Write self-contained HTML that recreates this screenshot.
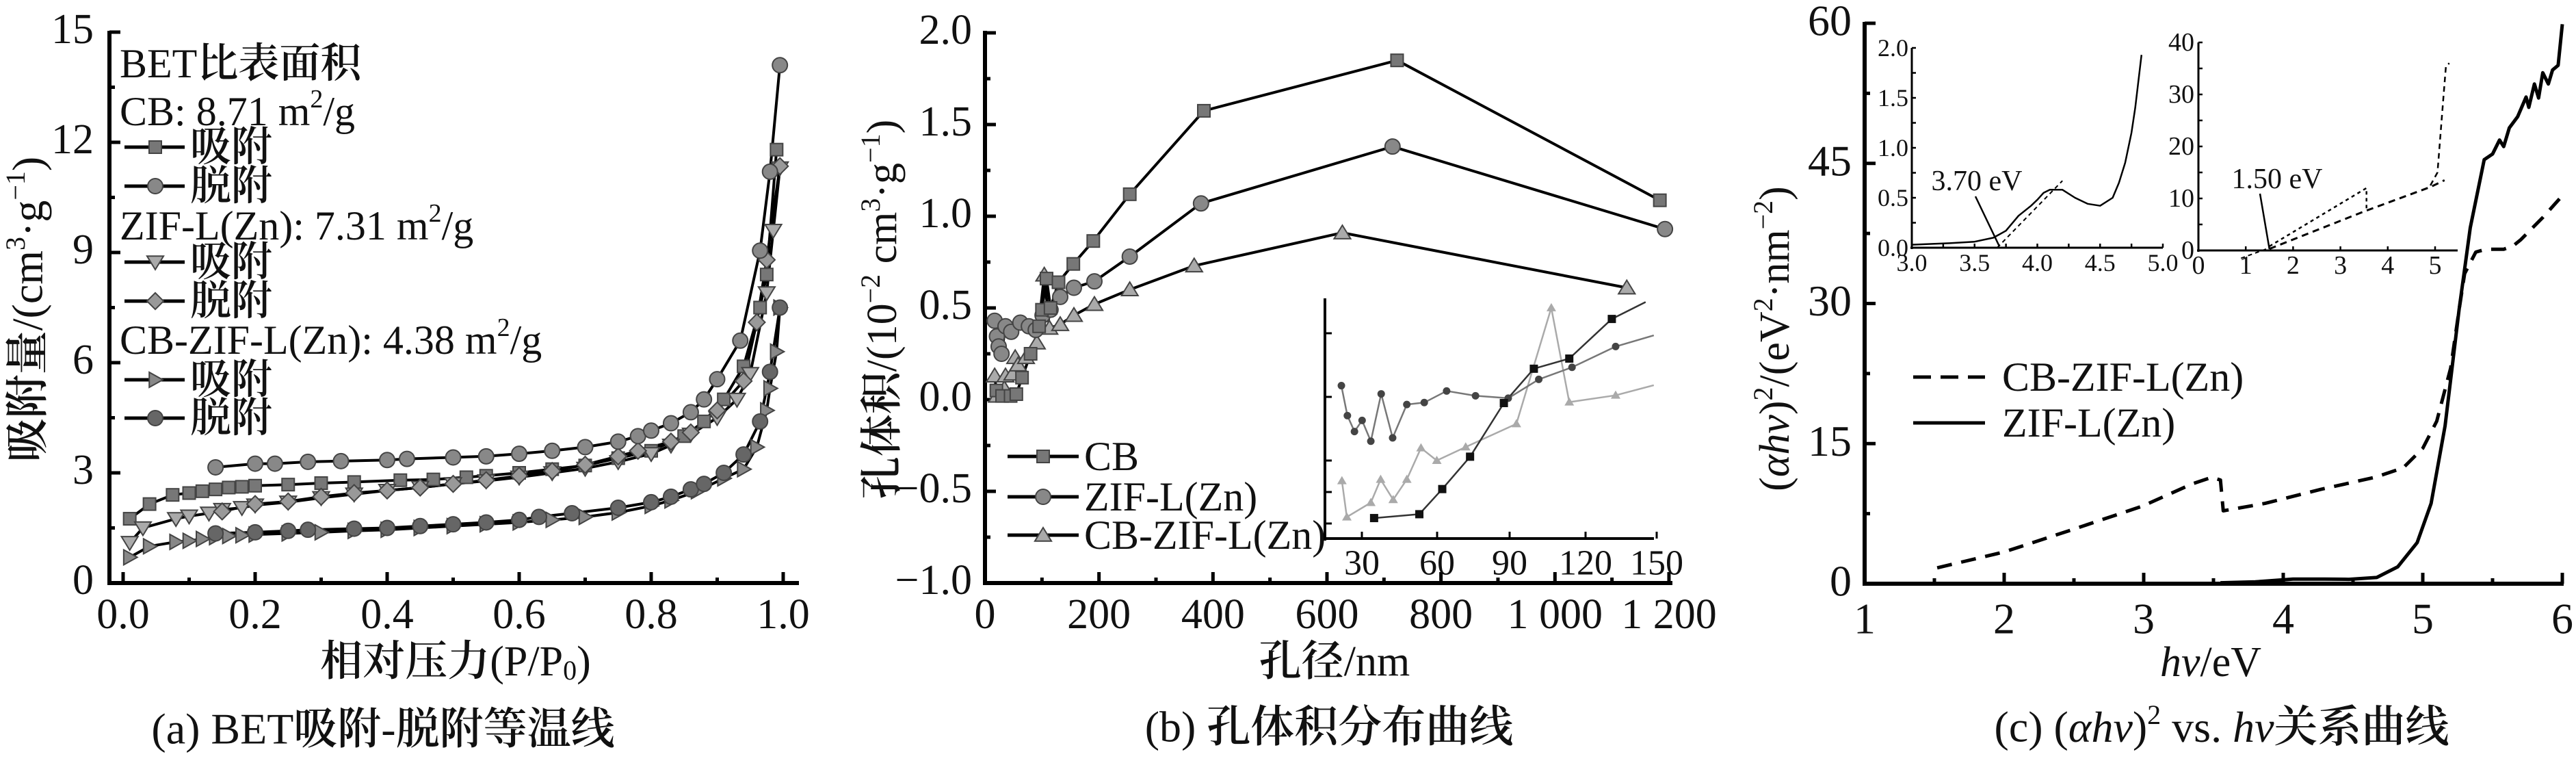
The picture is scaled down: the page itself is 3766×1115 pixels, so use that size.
<!DOCTYPE html>
<html><head><meta charset="utf-8">
<style>
html,body{margin:0;padding:0;background:#fff;}
svg text{font-family:"Liberation Serif","Noto Serif CJK SC",serif;fill:#111;}
.b{font-weight:600;}
</style></head>
<body>
<svg id="s" xmlns="http://www.w3.org/2000/svg" width="3766" height="1110" viewBox="0 0 3766 1110"></svg>
<script>
const S=document.getElementById('s');let H='';
function cj(t){return t.replace(/([\u4e00-\u9fff]+)/g,'<tspan class="b">$1</tspan>');}
function L(x1,y1,x2,y2,w,c,extra){H+=`<line x1="${x1}" y1="${y1}" x2="${x2}" y2="${y2}" stroke="${c||'#000'}" stroke-width="${w||6}" ${extra||''}/>`;}
function T(x,y,t,fs,anchor,extra){H+=`<text x="${x}" y="${y}" font-size="${fs}" text-anchor="${anchor||'middle'}" dominant-baseline="central" ${extra||''}>${cj(t)}</text>`;}
function P(pts,w,c,extra){H+=`<polyline fill="none" points="${pts.map(p=>p[0].toFixed(1)+','+p[1].toFixed(1)).join(' ')}" stroke="${c||'#000'}" stroke-width="${w||4}" stroke-linejoin="round" ${extra||''}/>`;}
function M(type,x,y,r,fill){
 const st=`fill="${fill}" stroke="#444" stroke-width="2"`;
 if(type=='s')H+=`<rect x="${x-r}" y="${y-r}" width="${2*r}" height="${2*r}" ${st}/>`;
 else if(type=='c')H+=`<circle cx="${x}" cy="${y}" r="${r}" ${st}/>`;
 else if(type=='d')H+=`<polygon points="${x},${y+r} ${x-r*1.1},${y-r*0.8} ${x+r*1.1},${y-r*0.8}" ${st}/>`;
 else if(type=='u')H+=`<polygon points="${x},${y-r} ${x-r*1.1},${y+r*0.8} ${x+r*1.1},${y+r*0.8}" ${st}/>`;
 else if(type=='r')H+=`<polygon points="${x+r},${y} ${x-r*0.8},${y-r} ${x-r*0.8},${y+r}" ${st}/>`;
 else if(type=='m')H+=`<polygon points="${x},${y-r*1.1} ${x+r*1.1},${y} ${x},${y+r*1.1} ${x-r*1.1},${y}" ${st}/>`;
}
/* ===== Panel a ===== */
{const X=v=>180+965*v, Y=v=>852-53.67*v;
L(160,45,160,855);L(157,852,1168,852);
for(let i=0;i<=10;i++){const y=Y(i*1.5);L(160,y,i%2==0?176:168,y,5);}
for(let i=0;i<=10;i++){const x=X(i*0.1);L(x,852,x,i%2==0?836:844,5);}
for(let i=0;i<=5;i++)T(137,Y(i*3)-4,String(i*3),62,'end');
for(let i=0;i<=5;i++)T(X(i*0.2),898,(i*0.2).toFixed(1),62);
const series=[
['s','#777',[[0.01,1.75],[0.04,2.15],[0.075,2.4],[0.1,2.45],[0.12,2.5],[0.14,2.55],[0.16,2.6],[0.18,2.62],[0.2,2.65],[0.25,2.68],[0.3,2.72],[0.35,2.75],[0.42,2.8],[0.47,2.82],[0.52,2.88],[0.55,2.92],[0.6,3.0],[0.65,3.1],[0.7,3.2],[0.75,3.4],[0.8,3.6],[0.85,4.0],[0.88,4.4],[0.91,5.0],[0.94,5.9],[0.965,7.5],[0.975,8.4],[0.99,11.8]]],
['d','#aaa',[[0.01,1.1],[0.03,1.5],[0.08,1.75],[0.1,1.82],[0.13,1.9],[0.15,2.0],[0.18,2.05],[0.2,2.12],[0.25,2.2],[0.3,2.32],[0.35,2.42],[0.4,2.52],[0.45,2.6],[0.5,2.7],[0.55,2.78],[0.6,2.88],[0.65,3.0],[0.7,3.12],[0.75,3.3],[0.8,3.52],[0.83,3.75],[0.86,4.05],[0.9,4.5],[0.93,5.0],[0.95,5.7],[0.975,7.9],[0.985,9.6],[0.995,11.3]]],
['m','#999',[[0.15,1.95],[0.2,2.15],[0.25,2.22],[0.3,2.35],[0.35,2.45],[0.4,2.52],[0.45,2.6],[0.5,2.7],[0.55,2.8],[0.6,2.92],[0.65,3.05],[0.7,3.22],[0.75,3.45],[0.78,3.6],[0.83,3.85],[0.86,4.1],[0.9,4.7],[0.94,5.5],[0.96,7.1],[0.975,8.8],[0.995,11.35]]],
['r','#888',[[0.01,0.7],[0.04,1.0],[0.08,1.12],[0.1,1.15],[0.12,1.2],[0.14,1.25],[0.16,1.28],[0.18,1.3],[0.2,1.32],[0.25,1.35],[0.3,1.38],[0.35,1.42],[0.4,1.45],[0.45,1.5],[0.5,1.55],[0.55,1.6],[0.6,1.65],[0.65,1.72],[0.7,1.8],[0.75,1.92],[0.8,2.1],[0.83,2.25],[0.87,2.5],[0.91,2.85],[0.94,3.1],[0.96,3.7],[0.975,4.7],[0.98,5.3],[0.99,6.3],[0.995,7.5]]],
['c','#666',[[0.14,1.35],[0.2,1.38],[0.25,1.42],[0.28,1.45],[0.35,1.48],[0.4,1.5],[0.45,1.55],[0.5,1.6],[0.55,1.65],[0.6,1.72],[0.63,1.8],[0.68,1.9],[0.75,2.05],[0.8,2.2],[0.83,2.35],[0.86,2.55],[0.88,2.7],[0.91,3.0],[0.94,3.5],[0.965,4.4],[0.98,5.75],[0.995,7.5]]],
['c','#888',[[0.14,3.15],[0.2,3.25],[0.23,3.25],[0.28,3.3],[0.33,3.32],[0.4,3.35],[0.43,3.38],[0.5,3.42],[0.55,3.45],[0.6,3.52],[0.65,3.6],[0.7,3.7],[0.75,3.85],[0.78,4.0],[0.8,4.15],[0.83,4.35],[0.86,4.65],[0.88,5.0],[0.9,5.55],[0.935,6.6],[0.965,9.05],[0.98,11.2],[0.995,14.1]]]];
for(const s of series){P(s[2].map(p=>[X(p[0]),Y(p[1])]),4);}
for(const s of series){for(const p of s[2])M(s[0],X(p[0]),Y(p[1]),s[0]=='s'?9:11,s[1]);}
T(175,93,'BET比表面积',60,'start');
T(175,163,'CB: 8.71 m<tspan font-size="38" dy="-18">2</tspan><tspan dy="18">/g</tspan>',60,'start');
const leg=[[215,'s','#777','吸附'],[272,'c','#888','脱附'],[383,'d','#aaa','吸附'],[440,'m','#999','脱附'],[555,'r','#888','吸附'],[611,'c','#666','脱附']];
for(const l of leg){L(182,l[0],270,l[0],5);M(l[1],227,l[0],l[1]=='s'?9:11,l[2]);T(278,l[0],l[3],60,'start');}
T(175,330,'ZIF-L(Zn): 7.31 m<tspan font-size="38" dy="-18">2</tspan><tspan dy="18">/g</tspan>',60,'start');
T(175,497,'CB-ZIF-L(Zn): 4.38 m<tspan font-size="38" dy="-18">2</tspan><tspan dy="18">/g</tspan>',60,'start');
T(40,452,'吸附量/(cm<tspan font-size="40" dy="-18">3</tspan><tspan dy="18">·g</tspan><tspan font-size="40" dy="-18">−1</tspan><tspan dy="18">)</tspan>',64,'middle','transform="rotate(-90 40 452)"');
T(666,967,'相对压力(P/P<tspan font-size="40" dy="12">0</tspan><tspan dy="-12">)</tspan>',62);
T(560,1065,'(a) BET吸附-脱附等温线',64);
}
/* ===== Panel b ===== */
{const X=v=>1440+0.8333*v, Y=v=>584-268*v;
L(1440,45,1440,855);L(1437,852,2445,852);
for(let i=0;i<=12;i++){const y=Y(-1+i*0.25);L(1440,y,i%2==0?1456:1448,y,5);}
for(let i=0;i<=12;i++){const x=X(i*100);L(x,852,x,i%2==0?836:844,5);}
for(let i=0;i<=6;i++){const v=-1+i*0.5;T(1421,Y(v)-4,(v<0?'−':'')+Math.abs(v).toFixed(1),62,'end');}
['0','200','400','600','800','1 000','1 200'].forEach((t,i)=>T(X(i*200),898,t,62));
const cb=[[20,0.05],[30,0.02],[45,0.02],[55,0.03],[65,0.12],[80,0.25],[95,0.4],[100,0.49],[108,0.66],[115,0.5],[129,0.64],[155,0.74],[190,0.865],[254,1.12],[384,1.575],[723,1.85],[1184,1.087]];
const zf=[[17,0.43],[21,0.345],[24,0.29],[29,0.25],[36,0.40],[46,0.37],[62,0.42],[77,0.40],[89,0.38],[101,0.46],[115,0.49],[132,0.56],[156,0.61],[192,0.645],[254,0.78],[379,1.07],[715,1.38],[1193,0.93]];
const cz=[[17,0.13],[21,0.02],[34,0.06],[36,0.13],[48,0.14],[53,0.23],[58,0.19],[72,0.23],[91,0.31],[104,0.68],[113,0.39],[132,0.41],[156,0.46],[192,0.52],[254,0.60],[367,0.73],[627,0.91],[1126,0.61]];
for(const s of [cz,zf,cb])P(s.map(p=>[X(p[0]),Y(p[1])]),4);
for(const p of cz)M('u',X(p[0]),Y(p[1]),11,'#aaa');
for(const p of zf)M('c',X(p[0]),Y(p[1]),11,'#888');
for(const p of cb)M('s',X(p[0]),Y(p[1]),9,'#777');
[[667,'s','#777','CB'],[726,'c','#888','ZIF-L(Zn)'],[782,'u','#aaa','CB-ZIF-L(Zn)']].forEach(l=>{L(1473,l[0],1577,l[0],5);M(l[1],1525,l[0],l[1]=='s'?9:11,l[2]);T(1585,l[0],l[3],60,'start');});
/* inset */
L(1937,436,1937,790,4);L(1935,787,2418,787,4);
[487,580,673,719,765].forEach((y,i)=>L(1937,y,1947,y,3));
[[1991,'30'],[2101,'60'],[2207,'90'],[2318,'120'],[2422,'150']].forEach(a=>{L(a[0],787,a[0],777,3);T(a[0],823,a[1],52);});
const cv=(x,y)=>[1250+x/1.2545,y/1.416];
const iz=[[892,798],[903,860],[916,893],[930,870],[946,913],[965,815],[986,906],[1012,837],[1044,833],[1085,809],[1138,819],[1198,824],[1254,785],[1315,760],[1395,717],[1465,694]].map(p=>cv(...p));
const ic=[[952,1072],[1035,1064],[1077,1012],[1128,945],[1190,834],[1245,763],[1310,742],[1388,660],[1450,625]].map(p=>cv(...p));
const it=[[893,995],[902,1070],[946,1040],[964,992],[987,1034],[1012,992],[1038,927],[1067,953],[1120,925],[1213,877],[1277,637],[1310,832],[1395,818],[1465,797]].map(p=>cv(...p));
P(it,2.5,'#aaa');P(iz,2.5,'#777');P(ic,2.5,'#333');
it.slice(0,-1).forEach(p=>H+=`<polygon points="${p[0]},${p[1]-7} ${p[0]-7},${p[1]+5} ${p[0]+7},${p[1]+5}" fill="#aaa"/>`);
iz.slice(0,-1).forEach(p=>H+=`<circle cx="${p[0]}" cy="${p[1]}" r="5.5" fill="#444"/>`);
ic.slice(0,-1).forEach(p=>H+=`<rect x="${p[0]-6}" y="${p[1]-6}" width="12" height="12" fill="#111"/>`);
T(1290,452,'孔体积/(10<tspan font-size="40" dy="-18">−2</tspan><tspan dy="18"> cm</tspan><tspan font-size="40" dy="-18">3</tspan><tspan dy="18">·g</tspan><tspan font-size="40" dy="-18">−1</tspan><tspan dy="18">)</tspan>',62,'middle','transform="rotate(-90 1290 452)"');
T(1951,967,'孔径/nm',62);
T(1943,1062,'(b) 孔体积分布曲线',64);
}
/* ===== Panel c ===== */
{const X=v=>2726+204*(v-1), Y=v=>853-13.65*v;
L(2726,32,2726,856);L(2723,853,3748,853);
for(let i=0;i<=8;i++){const y=Y(i*7.5);L(2726,y,i%2==0?2742:2734,y,5);}
for(let i=0;i<=10;i++){const x=X(1+i*0.5);L(x,853,x,i%2==0?837:845,5);}
for(let i=0;i<=4;i++)T(2707,Y(i*15)-4,String(i*15),64,'end');
for(let i=1;i<=6;i++)T(X(i),904,String(i),64);
const d=[[1.52,1.7],[2.0,3.4],[2.47,5.7],[2.99,8.3],[3.35,10.7],[3.49,11.4],[3.55,11.1],[3.57,7.8],[3.87,8.6],[4.27,10.1],[4.66,11.4],[4.86,12.4],[5.0,14.5],[5.1,17.4],[5.2,23.1],[5.26,29.3],[5.3,33.2],[5.38,35.5],[5.45,35.8],[5.58,35.8],[5.65,36.2],[5.7,36.8],[5.86,39.2],[5.98,41.2]];
P(d.map(p=>[X(p[0]),Y(p[1])]),5,'#000','stroke-dasharray="22 14"');
const sl=[[3.55,0.1],[3.8,0.2],[4.07,0.5],[4.3,0.5],[4.47,0.47],[4.67,0.67],[4.82,1.8],[4.96,4.4],[5.06,8.6],[5.16,16.9],[5.26,29.3],[5.34,38.1],[5.44,45.4],[5.5,46],[5.55,47.5],[5.58,46.8],[5.62,48.8],[5.68,50],[5.74,52.1],[5.76,51],[5.8,53.5],[5.83,52],[5.86,54.7],[5.9,53.5],[5.93,55],[5.97,55.5],[6.0,59.9]];
P(sl.map(p=>[X(p[0]),Y(p[1])]),5);
L(2797,551,2902,551,5,'#000','stroke-dasharray="26 14"');T(2927,551,'CB-ZIF-L(Zn)',60,'start');
L(2797,618,2902,618,5);T(2927,618,'ZIF-L(Zn)',60,'start');
T(2595,495,'(<tspan font-style="italic">αhv</tspan>)<tspan font-size="40" dy="-18">2</tspan><tspan dy="18">/(eV</tspan><tspan font-size="40" dy="-18">2</tspan><tspan dy="18">·nm</tspan><tspan font-size="40" dy="-18">−2</tspan><tspan dy="18">)</tspan>',62,'middle','transform="rotate(-90 2595 495)"');
T(3232,968,'<tspan font-style="italic">hv</tspan>/eV',62);
T(3248,1062,'(c) (<tspan font-style="italic">αhv</tspan>)<tspan font-size="40" dy="-18">2</tspan><tspan dy="18"> vs. </tspan><tspan font-style="italic">hv</tspan>关系曲线',64);
/* inset 1 */
const X1=v=>2795+183.5*(v-3), Y1=v=>362-146*v;
L(2795,70,2795,364,3);L(2793,362,3162,362,3);
for(let i=0;i<=8;i++){const y=Y1(i*0.25);L(2795,y,2801,y,2.5);}
for(let i=0;i<=8;i++){const x=X1(3+i*0.25);L(x,362,x,356,2.5);}
for(let i=0;i<=4;i++)T(2790,Y1(i*0.5),(i*0.5).toFixed(1),36,'end');
for(let i=0;i<=4;i++)T(X1(3+i*0.5),384,(3+i*0.5).toFixed(1),36);
P([[3.0,0.03],[3.3,0.045],[3.5,0.06],[3.65,0.1],[3.75,0.17],[3.85,0.32],[3.95,0.42],[4.0,0.48],[4.05,0.55],[4.1,0.58],[4.2,0.58],[4.3,0.5],[4.4,0.44],[4.5,0.42],[4.6,0.5],[4.65,0.65],[4.7,0.85],[4.75,1.15],[4.78,1.4],[4.83,1.93]].map(p=>[X1(p[0]),Y1(p[1])]),2.5);
L(X1(3.68),Y1(0),X1(4.2),Y1(0.67),2,'#000','stroke-dasharray="6 5"');
T(2890,265,'3.70 eV',42);L(2888,287,2923,360,2.5);
/* inset 2 */
const X2=v=>3214+69.2*v, Y2=v=>366-7.6*v;
L(3214,62,3214,368,3);L(3212,366,3593,366,3);
for(let i=0;i<=8;i++){const y=Y2(i*5);L(3214,y,3220,y,2.5);}
for(let i=0;i<=5;i++){const x=X2(i);L(x,366,x,360,2.5);}
for(let i=0;i<=4;i++)T(3208,Y2(i*10),String(i*10),38,'end');
for(let i=0;i<=5;i++)T(X2(i),388,String(i),38);
P([[1.5,0.3],[3.5,7.5],[4.9,12.2],[5.2,13.5]].map(p=>[X2(p[0]),Y2(p[1])]),3,'#000','stroke-dasharray="10 7"');
P([[1.5,0.8],[3.55,12],[3.55,7.8]].map(p=>[X2(p[0]),Y2(p[1])]),2.5,'#000','stroke-dasharray="5 5"');
P([[4.9,12.5],[5.05,15],[5.18,30],[5.23,35.5],[5.3,36]].map(p=>[X2(p[0]),Y2(p[1])]),2.5,'#000','stroke-dasharray="8 6"');
L(X2(0.9),Y2(-1.5),X2(1.5),Y2(0.5),2,'#000','stroke-dasharray="6 5"');
T(3329,262,'1.50 eV',42);L(3304,283,X2(1.5),364,2.5);
}
S.innerHTML=H;
</script>
</body></html>
